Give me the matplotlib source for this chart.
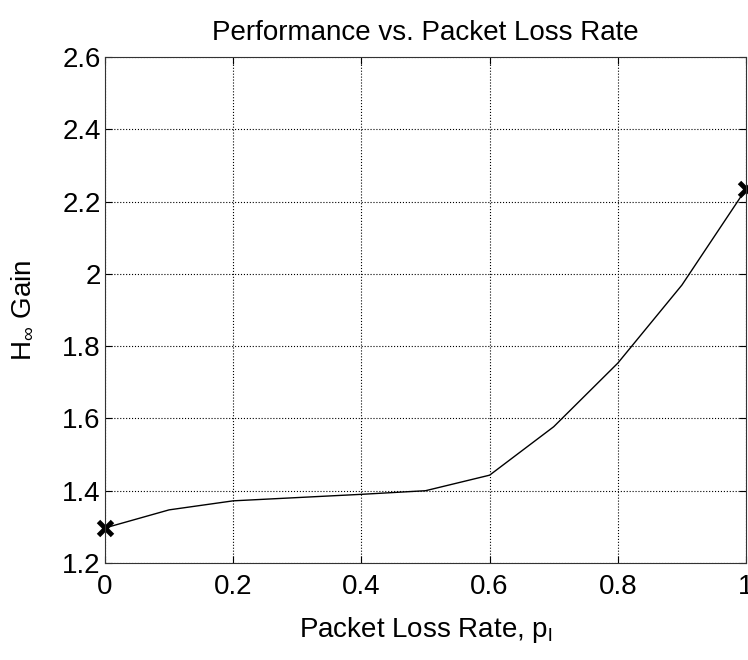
import matplotlib
matplotlib.use("Agg")
import matplotlib.pyplot as plt

plt.rcParams['font.family'] = ['Liberation Sans', 'DejaVu Sans']
plt.rcParams['mathtext.fontset'] = 'custom'
plt.rcParams['mathtext.rm'] = 'Liberation Sans'
plt.rcParams['mathtext.it'] = 'Liberation Sans'

# values
loss_rate = [0.0, 0.1, 0.2, 0.3, 0.4, 0.5, 0.6, 0.7, 0.8, 0.9, 1.0]
hinf_gain = [1.297, 1.347, 1.372, 1.381, 1.390, 1.400, 1.443, 1.577, 1.753, 1.969, 2.235]
end_x = [loss_rate[0], loss_rate[-1]]
end_y = [hinf_gain[0], hinf_gain[-1]]

fig = plt.figure(figsize=(7.48, 6.60), dpi=100)
ax = fig.add_axes([105 / 748, 97 / 660, 641 / 748, 506 / 660])

ax.plot(loss_rate, hinf_gain, color='black', linewidth=1.0)
ax.plot(end_x, end_y, linestyle='none', marker='x', color='black',
        markersize=10, markeredgewidth=3.5, clip_on=False)

ax.set_xlim(0, 1)
ax.set_ylim(1.2, 2.6)
ax.set_xticks([0, 0.2, 0.4, 0.6, 0.8, 1])
ax.set_xticklabels(['0', '0.2', '0.4', '0.6', '0.8', '1'])
ax.set_yticks([1.2, 1.4, 1.6, 1.8, 2.0, 2.2, 2.4, 2.6])
ax.set_yticklabels(['1.2', '1.4', '1.6', '1.8', '2', '2.2', '2.4', '2.6'])
ax.tick_params(direction='in', top=True, right=True, labelsize=20,
               length=5, width=0.8)
ax.tick_params(axis='x', pad=8)
ax.tick_params(axis='y', pad=3)
ax.grid(True, linestyle=':', color='black', linewidth=0.8)

for s in ax.spines.values():
    s.set_linewidth(0.8)
    s.set_color('#333333')

ax.set_title('Performance vs. Packet Loss Rate', fontsize=20, pad=12)
ax.set_xlabel(r'Packet Loss Rate, $\mathregular{p_l}$', fontsize=20, labelpad=11)
ax.set_ylabel(r'$\mathregular{H_\infty}$ Gain', fontsize=20, labelpad=19)

fig.savefig('out.png', dpi=100)
